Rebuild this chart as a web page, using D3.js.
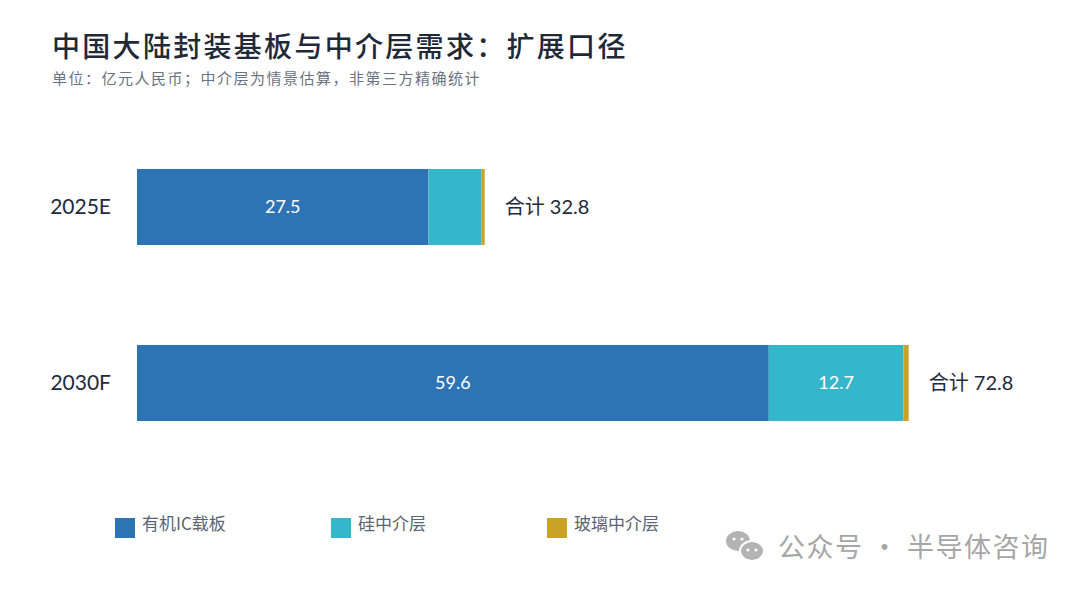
<!DOCTYPE html>
<html>
<head>
<meta charset="utf-8">
<script src="https://cdn.jsdelivr.net/npm/d3@7"></script>
<style>
  html, body { margin: 0; padding: 0; background: #fff; }
  svg { display: block; }
</style>
</head>
<body>
<svg width="1080" height="590"></svg>
<script>
const categories = ["2025E", "2030F"];
const organic = [27.5, 59.6];
const silicon = [5.0, 12.7];
const glass = [0.3, 0.5];
const seriesNames = ["有机IC载板", "硅中介层", "玻璃中介层"];
const seriesKeys = ["organic", "silicon", "glass"];
const colors = ["#2e74b5", "#35b6ca", "#c9a227"];

const svg = d3.select("svg");
const cjk = "'Noto Sans CJK SC', 'Noto Sans', sans-serif";
const num = "Lato, 'Noto Sans CJK SC', sans-serif";

const rows = categories.map((c, i) => ({
  cat: c,
  organic: organic[i],
  silicon: silicon[i],
  glass: glass[i]
}));

const stacked = d3.stack().keys(seriesKeys)(rows);

const x = d3.scaleLinear().domain([0, 80]).range([137, 985]);
const y = d3
  .scaleBand()
  .domain(categories)
  .range([119, 471])
  .paddingInner(0.568)
  .paddingOuter(0.284);
const color = d3.scaleOrdinal().domain(seriesKeys).range(colors);

// title
svg
  .append("text")
  .attr("x", 52)
  .attr("y", 57)
  .attr("font-family", cjk)
  .attr("font-size", 28)
  .attr("font-weight", 500)
  .attr("letter-spacing", 2.3)
  .attr("fill", "#1f2937")
  .text("中国大陆封装基板与中介层需求：扩展口径");

svg
  .append("text")
  .attr("x", 52)
  .attr("y", 84)
  .attr("font-family", cjk)
  .attr("font-size", 15)
  .attr("letter-spacing", 1.5)
  .attr("fill", "#6b7280")
  .text("单位：亿元人民币；中介层为情景估算，非第三方精确统计");

// bars
const layers = svg
  .append("g")
  .selectAll("g")
  .data(stacked)
  .join("g")
  .attr("fill", d => color(d.key));

layers
  .selectAll("rect")
  .data(d => d)
  .join("rect")
  .attr("x", d => x(d[0]))
  .attr("y", d => y(d.data.cat))
  .attr("width", d => x(d[1]) - x(d[0]))
  .attr("height", y.bandwidth());

// segment labels
layers
  .selectAll("text")
  .data(d => d.filter(s => s[1] - s[0] >= 10))
  .join("text")
  .attr("x", d => (x(d[0]) + x(d[1])) / 2)
  .attr("y", d => y(d.data.cat) + y.bandwidth() / 2)
  .attr("dy", "0.36em")
  .attr("text-anchor", "middle")
  .attr("font-family", num)
  .attr("font-size", 18)
  .attr("fill", "#fff")
  .text(d => (d[1] - d[0]).toFixed(1));

// totals
svg
  .append("g")
  .selectAll("text")
  .data(rows)
  .join("text")
  .attr("x", d => x(d.organic + d.silicon + d.glass) + 20)
  .attr("y", d => y(d.cat) + y.bandwidth() / 2)
  .attr("dy", "0.36em")
  .attr("font-family", num)
  .attr("font-size", 20)
  .attr("fill", "#1f2a3c")
  .text(d => "合计 " + (d.organic + d.silicon + d.glass).toFixed(1));

// category axis
const yAxis = svg
  .append("g")
  .attr("transform", `translate(${x(0)},0)`)
  .call(d3.axisLeft(y).tickSize(0).tickPadding(26));
yAxis.select(".domain").remove();
yAxis
  .selectAll("text")
  .attr("font-family", num)
  .attr("font-size", 21)
  .attr("fill", "#1f2a3c");

// legend
const legend = svg
  .append("g")
  .selectAll("g")
  .data(seriesKeys)
  .join("g")
  .attr("transform", (d, i) => `translate(${115 + i * 216}, 518)`);

legend
  .append("rect")
  .attr("width", 20)
  .attr("height", 20)
  .attr("fill", d => color(d));

legend
  .append("text")
  .attr("x", 27)
  .attr("y", 12)
  .attr("font-family", cjk)
  .attr("font-size", 17)
  .attr("fill", "#5b6472")
  .text((d, i) => seriesNames[i]);

// watermark
const wm = svg.append("g").attr("transform", "translate(726, 531)").attr("fill", "#b3b3b3");
wm.append("ellipse").attr("cx", 12).attr("cy", 10).attr("rx", 12).attr("ry", 10);
wm.append("ellipse").attr("cx", 26).attr("cy", 20).attr("rx", 12).attr("ry", 10).attr("stroke", "#fff").attr("stroke-width", 2);
wm.selectAll("circle.eye")
  .data([[8, 8], [16, 8], [22, 19], [30, 19]])
  .join("circle")
  .attr("cx", d => d[0])
  .attr("cy", d => d[1])
  .attr("r", 1.6)
  .attr("fill", "#fff");
svg
  .append("text")
  .attr("x", 778)
  .attr("y", 557)
  .attr("font-family", cjk)
  .attr("font-size", 27)
  .attr("letter-spacing", 1.5)
  .attr("fill", "#a6a6a6")
  .text("公众号 · 半导体咨询");
</script>
</body>
</html>
